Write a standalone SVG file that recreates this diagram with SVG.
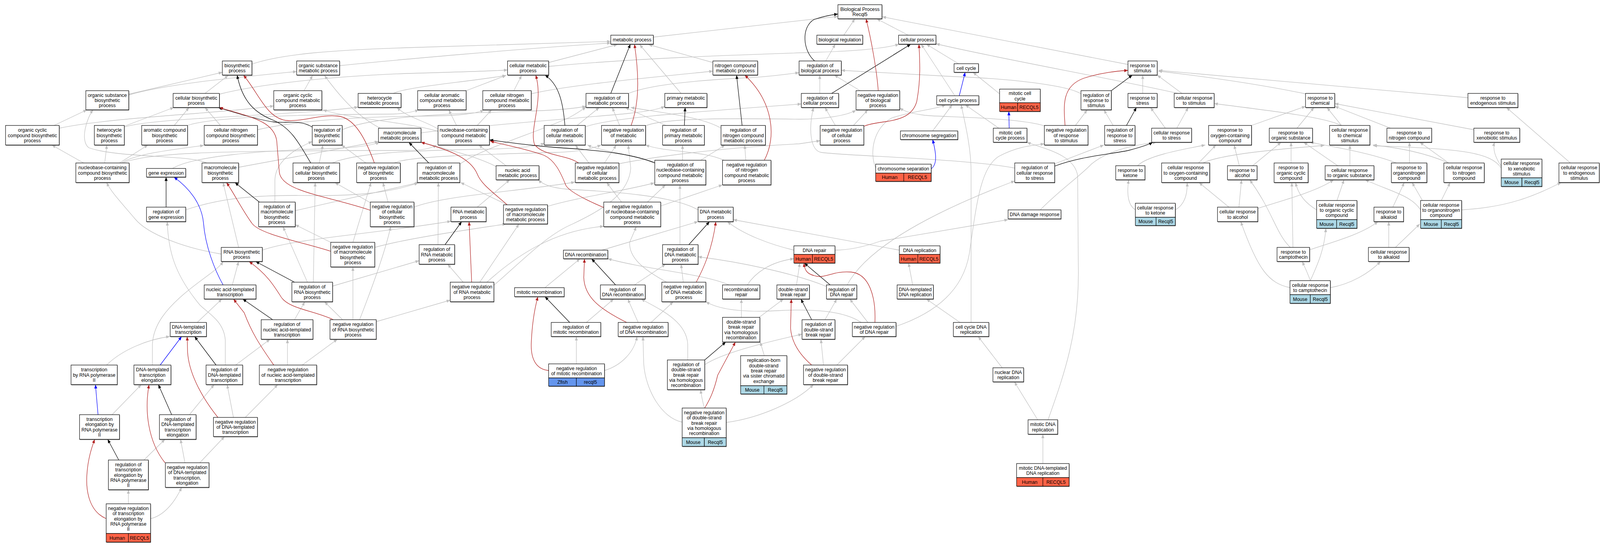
<svg xmlns="http://www.w3.org/2000/svg" width="4325" height="1397" viewBox="0 0 4325 1397">
<style>
.t{font-family:"Liberation Sans",Arial,sans-serif;font-size:13px;text-anchor:middle;fill:#000}
.bx{fill:#fff;stroke:#000;stroke-width:1.2}
.sh{fill:#555}
.hu{fill:#ff6347;stroke:#000;stroke-width:1.2}
.mo{fill:#add8e6;stroke:#000;stroke-width:1.2}
.zf{fill:#6495ed;stroke:#000;stroke-width:1.2}
.g{fill:none;stroke:#c0c0c0;stroke-width:1.3;marker-end:url(#ag)}
.k{fill:none;stroke:#000;stroke-width:1.3;marker-end:url(#ak)}
.r{fill:none;stroke:#b22222;stroke-width:1.3;marker-end:url(#ar)}
.b{fill:none;stroke:#0000ff;stroke-width:1.3;marker-end:url(#ab)}
</style>
<defs>
<marker id="ag" viewBox="0 0 10 8" refX="10" refY="4" markerWidth="10" markerHeight="8" markerUnits="userSpaceOnUse" orient="auto"><path d="M0,0L10,4L0,8z" fill="#c0c0c0"/></marker>
<marker id="ak" viewBox="0 0 10 8" refX="10" refY="4" markerWidth="10" markerHeight="8" markerUnits="userSpaceOnUse" orient="auto"><path d="M0,0L10,4L0,8z" fill="#000"/></marker>
<marker id="ar" viewBox="0 0 10 8" refX="10" refY="4" markerWidth="10" markerHeight="8" markerUnits="userSpaceOnUse" orient="auto"><path d="M0,0L10,4L0,8z" fill="#b22222"/></marker>
<marker id="ab" viewBox="0 0 10 8" refX="10" refY="4" markerWidth="10" markerHeight="8" markerUnits="userSpaceOnUse" orient="auto"><path d="M0,0L10,4L0,8z" fill="#0000ff"/></marker>
</defs>
<rect width="4325" height="1397" fill="#fff"/>
<g id="diagram" transform="scale(0.94705,1)">
<g id="connectors">
<path class="g" d="M681,164 C760,138 900,128 1100,122 C1300,116 1500,109 1651,106"/>
<path class="g" d="M918,168 C1050,155 1400,125 1651,110"/>
<path class="g" d="M348,241 L601,185"/>
<path class="g" d="M348,243 C450,215 620,200 802,183"/>
<path class="g" d="M554,239 L617,193"/>
<path class="g" d="M593,241 C700,215 900,195 1100,188 C1250,184 1330,182 1372,179"/>
<path class="g" d="M822,232 L845,193"/>
<path class="g" d="M1028,328 C970,300 925,255 877,193"/>
<path class="g" d="M1063,239 C1090,226 1200,215 1280,205 C1320,200 1350,196 1368,193"/>
<path class="g" d="M146,321 L235,281"/>
<path class="g" d="M160,328 C300,300 600,290 740,271"/>
<path class="g" d="M336,323 L470,275"/>
<path class="g" d="M336,325 C420,300 800,296 968,274"/>
<path class="g" d="M471,321 L511,275"/>
<path class="g" d="M507,321 C570,300 800,293 1050,292 C1090,292 1115,287 1132,281"/>
<path class="g" d="M596,321 L554,275"/>
<path class="g" d="M696,332 C820,305 1000,298 1150,297 C1250,296 1290,290 1308,281"/>
<path class="g" d="M226,417 L140,371"/>
<path class="g" d="M283,417 L289,371"/>
<path class="g" d="M323,417 L400,371"/>
<path class="g" d="M328,417 C370,392 470,383 551,372"/>
<path class="g" d="M332,417 C400,390 600,385 1100,385 C1140,385 1165,380 1180,371"/>
<path class="g" d="M559,417 C510,395 320,405 240,378 C215,360 235,300 252,281"/>
<path class="g" d="M645,428 L1023,362"/>
<path class="g" d="M466,431 C520,400 700,385 900,380 C980,377 1010,370 1026,364"/>
<path class="g" d="M863,417 L873,371"/>
<path class="g" d="M989,417 L923,371"/>
<path class="g" d="M898,417 C960,392 1100,385 1300,382 C1400,380 1450,375 1472,366"/>
<path class="g" d="M1066,417 C1100,400 1300,395 1500,390 C1570,388 1600,380 1625,371"/>
<path class="g" d="M925,332 C1000,300 1200,290 1400,285 C1500,283 1550,278 1584,272"/>
<path class="g" d="M1766,95 L2265,42"/>
<path class="g" d="M1483,160 L1669,114"/>
<path class="g" d="M1483,170 C1700,150 2000,140 2200,134 C2330,130 2400,122 2430,113"/>
<path class="g" d="M1927,160 L1753,114"/>
<path class="g" d="M1841,239 L1729,114"/>
<path class="g" d="M1699,239 C1760,215 1900,205 2000,200 C2080,197 2120,190 2160,186"/>
<path class="g" d="M1260,232 L1368,193"/>
<path class="g" d="M1389,232 L1410,193"/>
<path class="g" d="M1436,240 C1550,215 1800,195 1927,182"/>
<path class="g" d="M1560,321 L1620,275"/>
<path class="g" d="M1581,325 C1650,300 1900,285 2166,266"/>
<path class="g" d="M1675,321 L1655,275"/>
<path class="g" d="M1745,322 C1800,300 2000,303 2160,305 C2230,305 2290,295 2314,282"/>
<path class="g" d="M1800,321 L1690,275"/>
<path class="g" d="M1949,328 C1900,300 1800,290 1705,275"/>
<path class="g" d="M2016,410 L2013,371"/>
<path class="g" d="M1957,410 C1900,385 1800,390 1745,371"/>
<path class="g" d="M1845,410 L1845,371"/>
<path class="g" d="M1894,410 L1960,371"/>
<path class="g" d="M1770,415 C1700,395 1620,385 1588,371"/>
<path class="g" d="M1592,417 L1555,371"/>
<path class="g" d="M1634,417 L1666,371"/>
<path class="g" d="M1673,419 C1800,395 2000,375 2160,368 L2217,360"/>
<path class="g" d="M1243,420 C1300,380 1450,340 1540,300 C1560,290 1575,280 1584,274"/>
<path class="g" d="M1368,424 L1294,371"/>
<path class="g" d="M1345,428 C1290,400 1200,380 1138,364"/>
<path class="g" d="M1138,340 C1300,320 1600,300 1700,290 C1750,285 1780,280 1797,272"/>
<path class="g" d="M1234,321 L1213,281"/>
<path class="g" d="M1290,321 L1329,281"/>
<path class="g" d="M1184,330 C1150,310 1100,300 1073,275"/>
<path class="g" d="M1184,336 C1100,312 950,305 873,281"/>
<path class="g" d="M2281,90 L2311,48"/>
<path class="g" d="M2455,90 L2370,48"/>
<path class="g" d="M3049,165 L2385,43"/>
<path class="g" d="M2232,156 L2258,113"/>
<path class="g" d="M2216,239 L2216,192"/>
<path class="g" d="M2325,232 L2255,192"/>
<path class="g" d="M2258,321 L2230,275"/>
<path class="g" d="M2307,321 L2346,281"/>
<path class="g" d="M2581,245 L2490,113"/>
<path class="g" d="M2591,163 L2504,113"/>
<path class="g" d="M2702,240 L2630,185"/>
<path class="g" d="M2700,328 L2609,268"/>
<path class="g" d="M2521,335 L2574,268"/>
<path class="g" d="M2367,430 C2350,390 2360,330 2410,302 C2460,285 2530,280 2556,268"/>
<path class="g" d="M3184,239 C3000,200 2700,150 2530,112"/>
<path class="g" d="M2922,240 C2880,215 2700,200 2580,196 L2274,180"/>
<path class="g" d="M3089,239 L3089,192"/>
<path class="g" d="M3195,239 L3128,192"/>
<path class="g" d="M2907,321 L2939,281"/>
<path class="g" d="M2823,322 C2750,300 2550,300 2500,295 C2460,290 2445,285 2432,276"/>
<path class="g" d="M3009,321 L2984,281"/>
<path class="g" d="M3150,328 L3110,275"/>
<path class="g" d="M3181,328 L3212,275"/>
<path class="g" d="M2854,418 L2984,371"/>
<path class="g" d="M2743,430 C2600,405 2300,400 2220,390 C2190,385 2185,330 2199,275"/>
<path class="g" d="M2833,1074 C2880,950 2915,850 2915,700 L2913,450 C2905,395 2820,380 2776,364"/>
<path class="g" d="M2812,537 C2860,490 2920,450 2950,420 C3000,380 3080,370 3126,364"/>
<path class="g" d="M2258,640 C2300,640 2340,630 2380,617 L2725,562"/>
<path class="g" d="M2290,729 C2340,640 2500,550 2743,463"/>
<path class="g" d="M2422,835 C2500,810 2600,760 2620,650 C2640,520 2650,430 2700,400 C2750,375 2790,372 2823,368"/>
<path class="g" d="M2625,825 L2625,440 C2625,380 2610,320 2598,268"/>
<path class="g" d="M2595,825 L2504,765"/>
<path class="g" d="M2709,941 L2644,861"/>
<path class="g" d="M2805,1074 L2742,977"/>
<path class="g" d="M2819,1186 L2819,1111"/>
<path class="g" d="M2467,729 L2456,673"/>
<path class="g" d="M2431,640 L1982,562"/>
<path class="g" d="M2146,640 C2080,625 2010,600 1966,567"/>
<path class="g" d="M2153,729 L2162,673"/>
<path class="g" d="M2234,733 C2150,700 2000,670 1887,657"/>
<path class="g" d="M2346,825 L2297,765"/>
<path class="g" d="M2328,825 C2280,795 2200,790 2100,795 C2000,800 1940,790 1908,772"/>
<path class="g" d="M2230,818 L2262,765"/>
<path class="g" d="M2226,934 L2219,868"/>
<path class="g" d="M2262,934 L2339,861"/>
<path class="g" d="M2004,812 L2004,765"/>
<path class="g" d="M2052,812 L2118,765"/>
<path class="g" d="M1971,729 C1900,700 1750,690 1643,662"/>
<path class="g" d="M2020,729 C2040,700 2080,670 2146,662"/>
<path class="g" d="M1627,640 L1887,567"/>
<path class="g" d="M1838,626 L1838,473"/>
<path class="g" d="M1847,722 L1841,676"/>
<path class="g" d="M1802,722 C1740,690 1700,660 1702,620 L1720,580"/>
<path class="g" d="M1887,537 C1820,500 1650,490 1550,485 C1500,483 1470,475 1455,460"/>
<path class="g" d="M1750,517 L1799,473"/>
<path class="g" d="M1786,527 L1953,473"/>
<path class="g" d="M1680,517 L1640,467"/>
<path class="g" d="M1119,530 C1200,500 1400,490 1554,466"/>
<path class="g" d="M1480,528 C1560,505 1680,490 1769,468"/>
<path class="g" d="M1335,730 C1420,660 1480,600 1548,573 C1620,540 1700,500 1705,430 L1698,371"/>
<path class="g" d="M1290,530 L1378,460"/>
<path class="g" d="M1184,626 L1185,467"/>
<path class="g" d="M1252,722 L1210,676"/>
<path class="g" d="M1297,722 L1403,573"/>
<path class="g" d="M1315,723 C1400,650 1500,590 1632,579"/>
<path class="g" d="M1371,524 L1245,467"/>
<path class="g" d="M709,640 C800,610 1000,600 1219,566"/>
<path class="g" d="M645,633 L603,467"/>
<path class="g" d="M598,650 C500,635 400,600 365,560 C320,510 300,490 288,467"/>
<path class="g" d="M743,517 L743,460 C745,410 800,380 844,362"/>
<path class="g" d="M798,539 L1133,467"/>
<path class="g" d="M502,537 C600,505 700,500 800,500 C950,503 1050,495 1130,468"/>
<path class="g" d="M1000,518 L905,467"/>
<path class="g" d="M1049,517 L1035,467"/>
<path class="g" d="M894,620 L798,575"/>
<path class="g" d="M954,620 L1003,467"/>
<path class="g" d="M1013,633 C1100,610 1250,590 1368,573"/>
<path class="g" d="M628,729 L645,669"/>
<path class="g" d="M831,722 L765,580"/>
<path class="g" d="M847,722 L852,467"/>
<path class="g" d="M899,732 L1133,667"/>
<path class="g" d="M926,818 L877,772"/>
<path class="g" d="M954,818 L954,683"/>
<path class="g" d="M1017,823 L1217,768"/>
<path class="g" d="M972,818 C1000,750 1040,650 1056,580"/>
<path class="g" d="M533,825 L600,765"/>
<path class="g" d="M796,818 L824,772"/>
<path class="g" d="M817,934 L912,868"/>
<path class="g" d="M777,934 L777,868"/>
<path class="g" d="M288,934 C330,895 400,868 459,861"/>
<path class="g" d="M412,934 L412,880 C415,830 450,790 500,750 C550,710 590,690 603,669"/>
<path class="g" d="M637,934 L730,868"/>
<path class="g" d="M609,934 L609,870 C605,820 560,800 540,780 C470,700 455,640 452,567"/>
<path class="g" d="M303,1061 L382,984"/>
<path class="g" d="M512,1061 L579,984"/>
<path class="g" d="M631,1068 L614,984"/>
<path class="g" d="M663,1068 L751,984"/>
<path class="g" d="M389,1177 L446,1124"/>
<path class="g" d="M500,1184 L488,1124"/>
<path class="g" d="M540,1184 L607,1117"/>
<path class="g" d="M347,1289 L347,1253"/>
<path class="g" d="M407,1327 C440,1320 470,1290 491,1247"/>
<path class="g" d="M1585,825 L1659,765"/>
<path class="g" d="M1473,736 L1568,662"/>
<path class="g" d="M1715,729 L1799,676"/>
<path class="g" d="M1725,825 L1697,765"/>
<path class="g" d="M1760,825 L1820,772"/>
<path class="g" d="M1558,931 L1558,861"/>
<path class="g" d="M1634,948 C1680,935 1715,900 1722,861"/>
<path class="g" d="M1844,1080 C1790,1070 1745,1000 1740,930 L1738,861"/>
<path class="g" d="M1905,933 C1950,905 2050,880 2168,855"/>
<path class="g" d="M1859,921 L1859,880 C1855,820 1780,790 1733,765"/>
<path class="g" d="M1904,1044 C1900,1030 1896,1015 1894,997"/>
<path class="g" d="M1963,1081 C2050,1070 2150,1030 2199,984"/>
<path class="g" d="M2066,910 L2055,875"/>
<path class="g" d="M3529,240 C3400,215 3250,195 3131,182"/>
<path class="g" d="M3968,250 L3132,180"/>
<path class="g" d="M3626,321 C3580,300 3450,285 3282,265"/>
<path class="g" d="M3383,321 L3529,272"/>
<path class="g" d="M3506,328 L3552,275"/>
<path class="g" d="M3626,321 L3587,275"/>
<path class="g" d="M3759,328 L3608,272"/>
<path class="g" d="M3984,332 L3608,265"/>
<path class="g" d="M3240,417 L3287,371"/>
<path class="g" d="M3075,424 C3100,400 3180,385 3258,371"/>
<path class="g" d="M3350,424 L3336,371"/>
<path class="g" d="M3386,424 L3463,364"/>
<path class="g" d="M3490,417 L3490,364"/>
<path class="g" d="M3616,424 L3524,364"/>
<path class="g" d="M3252,417 C3300,395 3450,382 3580,372"/>
<path class="g" d="M3775,417 C3700,390 3600,375 3541,364"/>
<path class="g" d="M3649,424 L3649,371"/>
<path class="g" d="M3916,417 C3850,390 3780,378 3711,371"/>
<path class="g" d="M4058,430 C4030,390 3950,380 3712,373"/>
<path class="g" d="M3810,417 L3810,364"/>
<path class="g" d="M3916,417 L3838,364"/>
<path class="g" d="M4058,425 C4040,400 4035,380 4040,364"/>
<path class="g" d="M4245,417 L4072,275"/>
<path class="g" d="M3349,530 L3356,460"/>
<path class="g" d="M3322,530 L3241,467"/>
<path class="g" d="M3400,533 C3460,515 3560,490 3605,460"/>
<path class="g" d="M3614,513 L3633,460"/>
<path class="g" d="M3559,537 C3530,520 3510,500 3502,467"/>
<path class="g" d="M3840,537 C3815,500 3760,490 3690,460"/>
<path class="g" d="M3845,513 L3817,467"/>
<path class="g" d="M3765,530 L3796,467"/>
<path class="g" d="M3896,513 L3920,467"/>
<path class="g" d="M3951,537 C4080,530 4150,500 4220,467"/>
<path class="g" d="M3488,633 C3450,600 3440,540 3378,460"/>
<path class="g" d="M3495,633 L3492,467"/>
<path class="g" d="M3541,639 C3600,620 3680,600 3725,567"/>
<path class="g" d="M3754,633 L3754,567"/>
<path class="g" d="M3772,633 L3838,573"/>
<path class="g" d="M3487,736 C3430,725 3400,690 3354,567"/>
<path class="g" d="M3542,718 C3535,700 3528,685 3520,669"/>
<path class="g" d="M3542,718 C3560,680 3580,640 3584,584"/>
<path class="g" d="M3596,736 C3650,727 3700,700 3732,669"/>
<path class="g" d="M3069,537 C3050,525 3045,500 3051,460"/>
<path class="g" d="M3177,537 C3200,525 3210,500 3209,467"/>
<path class="k" d="M2202,156 C2170,130 2165,70 2200,50 C2225,42 2245,38 2265,36"/>
<path class="k" d="M2248,239 L2462,113"/>
<path class="k" d="M3004,232 L3061,192"/>
<path class="k" d="M3045,321 L3072,275"/>
<path class="k" d="M2851,425 C2920,400 3000,395 3050,385 C3090,375 3105,370 3116,364"/>
<path class="k" d="M1651,239 L1704,113"/>
<path class="k" d="M1850,321 L1852,275"/>
<path class="k" d="M2006,321 L1991,192"/>
<path class="k" d="M1527,321 C1522,260 1510,215 1473,192"/>
<path class="k" d="M1770,417 C1700,390 1600,385 1560,381 C1450,375 1380,365 1323,358"/>
<path class="k" d="M1159,417 L1105,364"/>
<path class="k" d="M840,417 C810,370 790,330 740,308 C690,290 655,260 641,192"/>
<path class="k" d="M844,325 C810,305 770,316 740,312 C700,307 640,290 590,275"/>
<path class="k" d="M449,530 L449,453"/>
<path class="k" d="M701,517 L635,467"/>
<path class="k" d="M796,722 L691,669"/>
<path class="k" d="M737,818 L656,765"/>
<path class="k" d="M584,934 L526,861"/>
<path class="k" d="M464,1061 L428,984"/>
<path class="k" d="M321,1177 L291,1124"/>
<path class="k" d="M1203,626 L1248,567"/>
<path class="k" d="M1862,626 L1918,567"/>
<path class="k" d="M1664,729 L1599,662"/>
<path class="k" d="M1540,825 L1473,759"/>
<path class="k" d="M1905,921 L1962,875"/>
<path class="k" d="M2244,729 L2174,673"/>
<path class="k" d="M2194,818 L2165,765"/>
<path class="r" d="M2374,232 C2370,180 2355,100 2341,48"/>
<path class="r" d="M2335,323 C2380,305 2460,320 2478,260 C2490,200 2486,150 2484,113"/>
<path class="r" d="M2879,321 C2875,270 2870,220 2930,200 C2980,185 3020,182 3049,180"/>
<path class="r" d="M1706,321 C1722,280 1732,220 1715,113"/>
<path class="r" d="M1564,417 C1530,395 1470,400 1445,370 C1430,330 1470,260 1448,192"/>
<path class="r" d="M2066,410 C2100,350 2090,260 2013,192"/>
<path class="r" d="M1012,417 C990,360 960,300 912,297 C860,293 820,312 772,308 C720,300 700,240 658,192"/>
<path class="r" d="M1001,538 C880,500 760,490 755,440 L748,360 C740,310 680,300 593,275"/>
<path class="r" d="M1371,524 C1330,490 1300,470 1290,445 C1270,400 1200,380 1138,364"/>
<path class="r" d="M1632,531 C1580,510 1540,490 1530,475 C1515,440 1500,410 1470,397 C1420,380 1360,370 1325,361"/>
<path class="r" d="M894,643 C820,620 700,600 680,570 C650,530 630,490 612,467"/>
<path class="r" d="M901,818 C850,795 780,790 760,760 C740,730 720,700 673,669"/>
<path class="r" d="M740,934 C700,880 680,850 660,800 L631,765"/>
<path class="r" d="M589,1068 C540,1010 510,950 507,900 L506,861"/>
<path class="r" d="M446,1184 C400,1130 390,1050 403,984"/>
<path class="r" d="M287,1327 C238,1307 232,1250 235,1213 C238,1170 250,1140 256,1124"/>
<path class="r" d="M1275,722 L1268,567"/>
<path class="r" d="M1882,722 C1900,690 1925,640 1935,567"/>
<path class="r" d="M1694,825 C1620,790 1580,760 1578,710 L1580,662"/>
<path class="r" d="M1483,948 C1450,945 1435,920 1436,880 C1438,830 1445,790 1454,759"/>
<path class="r" d="M1905,1044 C1920,1020 1930,1000 1940,960 L1988,875"/>
<path class="r" d="M2365,825 C2368,760 2350,700 2300,696 C2250,692 2230,715 2200,705 C2180,700 2175,690 2173,673"/>
<path class="r" d="M2194,934 C2165,910 2140,880 2137,840 L2139,765"/>
<path class="b" d="M2593,245 L2609,185"/>
<path class="b" d="M2728,328 L2727,285"/>
<path class="b" d="M2517,432 C2535,420 2530,390 2521,357"/>
<path class="b" d="M603,729 C580,690 555,630 550,570 C545,520 510,480 470,453"/>
<path class="b" d="M433,934 L491,861"/>
<path class="b" d="M265,1061 L258,984"/>
</g>
<g id="n_BP"><rect class="sh" x="2266" y="13.5" width="119" height="36"/><rect class="bx" x="2265" y="12" width="119" height="36"/><text class="t"><tspan x="2324.5" y="27.9">Biological Process</tspan><tspan x="2324.5" y="41.3">Recql5</tspan></text></g>
<g id="n_MP"><rect class="sh" x="1652" y="91.5" width="115" height="23"/><rect class="bx" x="1651" y="90" width="115" height="23"/><text class="t" x="1708.5" y="106.1">metabolic process</text></g>
<g id="n_BR"><rect class="sh" x="2209" y="91.5" width="124" height="23"/><rect class="bx" x="2208" y="90" width="124" height="23"/><text class="t" x="2270" y="106.1">biological regulation</text></g>
<g id="n_CP"><rect class="sh" x="2430" y="91.5" width="101" height="23"/><rect class="bx" x="2429" y="90" width="101" height="23"/><text class="t" x="2479.5" y="106.1">cellular process</text></g>
<g id="n_BS"><rect class="sh" x="602" y="157.5" width="80" height="36"/><rect class="bx" x="601" y="156" width="80" height="36"/><text class="t"><tspan x="641" y="171.9">biosynthetic</tspan><tspan x="641" y="185.3">process</tspan></text></g>
<g id="n_OSMP"><rect class="sh" x="803" y="157.5" width="116" height="36"/><rect class="bx" x="802" y="156" width="116" height="36"/><text class="t"><tspan x="860" y="171.9">organic substance</tspan><tspan x="860" y="185.3">metabolic process</tspan></text></g>
<g id="n_CMP"><rect class="sh" x="1373" y="157.5" width="111" height="36"/><rect class="bx" x="1372" y="156" width="111" height="36"/><text class="t"><tspan x="1427.5" y="171.9">cellular metabolic</tspan><tspan x="1427.5" y="185.3">process</tspan></text></g>
<g id="n_NCMP"><rect class="sh" x="1928" y="157.5" width="121" height="36"/><rect class="bx" x="1927" y="156" width="121" height="36"/><text class="t"><tspan x="1987.5" y="171.9">nitrogen compound</tspan><tspan x="1987.5" y="185.3">metabolic process</tspan></text></g>
<g id="n_RBP"><rect class="sh" x="2161" y="157.5" width="114" height="36"/><rect class="bx" x="2160" y="156" width="114" height="36"/><text class="t"><tspan x="2217" y="171.9">regulation of</tspan><tspan x="2217" y="185.3">biological process</tspan></text></g>
<g id="n_CC"><rect class="sh" x="2580" y="164.5" width="66" height="22"/><rect class="bx" x="2579" y="163" width="66" height="22"/><text class="t" x="2612" y="178.6">cell cycle</text></g>
<g id="n_RS"><rect class="sh" x="3050" y="157.5" width="79" height="36"/><rect class="bx" x="3049" y="156" width="79" height="36"/><text class="t"><tspan x="3088.5" y="171.9">response to</tspan><tspan x="3088.5" y="185.3">stimulus</tspan></text></g>
<g id="n_OSBP"><rect class="sh" x="233" y="233.5" width="116" height="49"/><rect class="bx" x="232" y="232" width="116" height="49"/><text class="t"><tspan x="290" y="247.7">organic substance</tspan><tspan x="290" y="261.1">biosynthetic</tspan><tspan x="290" y="274.5">process</tspan></text></g>
<g id="n_CBP"><rect class="sh" x="469" y="240.5" width="125" height="36"/><rect class="bx" x="468" y="239" width="125" height="36"/><text class="t"><tspan x="530.5" y="254.9">cellular biosynthetic</tspan><tspan x="530.5" y="268.3">process</tspan></text></g>
<g id="n_OCCMP"><rect class="sh" x="741" y="233.5" width="130" height="49"/><rect class="bx" x="740" y="232" width="130" height="49"/><text class="t"><tspan x="805" y="247.7">organic cyclic</tspan><tspan x="805" y="261.1">compound metabolic</tspan><tspan x="805" y="274.5">process</tspan></text></g>
<g id="n_HMP"><rect class="sh" x="969" y="240.5" width="116" height="36"/><rect class="bx" x="968" y="239" width="116" height="36"/><text class="t"><tspan x="1026" y="254.9">heterocycle</tspan><tspan x="1026" y="268.3">metabolic process</tspan></text></g>
<g id="n_CACMP"><rect class="sh" x="1130" y="233.5" width="131" height="49"/><rect class="bx" x="1129" y="232" width="131" height="49"/><text class="t"><tspan x="1194.5" y="247.7">cellular aromatic</tspan><tspan x="1194.5" y="261.1">compound metabolic</tspan><tspan x="1194.5" y="274.5">process</tspan></text></g>
<g id="n_CNCMP"><rect class="sh" x="1306" y="233.5" width="131" height="49"/><rect class="bx" x="1305" y="232" width="131" height="49"/><text class="t"><tspan x="1370.5" y="247.7">cellular nitrogen</tspan><tspan x="1370.5" y="261.1">compound metabolic</tspan><tspan x="1370.5" y="274.5">process</tspan></text></g>
<g id="n_RMP"><rect class="sh" x="1585" y="240.5" width="115" height="36"/><rect class="bx" x="1584" y="239" width="115" height="36"/><text class="t"><tspan x="1641.5" y="254.9">regulation of</tspan><tspan x="1641.5" y="268.3">metabolic process</tspan></text></g>
<g id="n_PMP"><rect class="sh" x="1798" y="240.5" width="114" height="36"/><rect class="bx" x="1797" y="239" width="114" height="36"/><text class="t"><tspan x="1854" y="254.9">primary metabolic</tspan><tspan x="1854" y="268.3">process</tspan></text></g>
<g id="n_RCP"><rect class="sh" x="2167" y="240.5" width="101" height="36"/><rect class="bx" x="2166" y="239" width="101" height="36"/><text class="t"><tspan x="2216.5" y="254.9">regulation of</tspan><tspan x="2216.5" y="268.3">cellular process</tspan></text></g>
<g id="n_NRBP"><rect class="sh" x="2315" y="233.5" width="118" height="49"/><rect class="bx" x="2314" y="232" width="118" height="49"/><text class="t"><tspan x="2373" y="247.7">negative regulation</tspan><tspan x="2373" y="261.1">of biological</tspan><tspan x="2373" y="274.5">process</tspan></text></g>
<g id="n_CCP"><rect class="sh" x="2533" y="246.5" width="114" height="23"/><rect class="bx" x="2532" y="245" width="114" height="23"/><text class="t" x="2589" y="261.1">cell cycle process</text></g>
<g id="n_MCC"><rect class="sh" x="2703" y="229.5" width="110" height="57"/><rect class="bx" x="2702" y="228" width="110" height="35"/><rect class="hu" x="2702" y="263" width="49" height="22"/><rect class="hu" x="2751" y="263" width="61" height="22"/><text class="t"><tspan x="2757" y="243.4">mitotic cell</tspan><tspan x="2757" y="256.8">cycle</tspan><tspan x="2726.5" y="278.6">Human</tspan><tspan x="2781.5" y="278.6">RECQL5</tspan></text></g>
<g id="n_RRS"><rect class="sh" x="2923" y="233.5" width="82" height="49"/><rect class="bx" x="2922" y="232" width="82" height="49"/><text class="t"><tspan x="2963" y="247.7">regulation of</tspan><tspan x="2963" y="261.1">response to</tspan><tspan x="2963" y="274.5">stimulus</tspan></text></g>
<g id="n_RSS"><rect class="sh" x="3050" y="240.5" width="79" height="36"/><rect class="bx" x="3049" y="239" width="79" height="36"/><text class="t"><tspan x="3088.5" y="254.9">response to</tspan><tspan x="3088.5" y="268.3">stress</tspan></text></g>
<g id="n_CRSt"><rect class="sh" x="3175" y="240.5" width="108" height="36"/><rect class="bx" x="3174" y="239" width="108" height="36"/><text class="t"><tspan x="3228" y="254.9">cellular response</tspan><tspan x="3228" y="268.3">to stimulus</tspan></text></g>
<g id="n_RC"><rect class="sh" x="3530" y="240.5" width="79" height="36"/><rect class="bx" x="3529" y="239" width="79" height="36"/><text class="t"><tspan x="3568.5" y="254.9">response to</tspan><tspan x="3568.5" y="268.3">chemical</tspan></text></g>
<g id="n_RES"><rect class="sh" x="3969" y="240.5" width="135" height="36"/><rect class="bx" x="3968" y="239" width="135" height="36"/><text class="t"><tspan x="4035.5" y="254.9">response to</tspan><tspan x="4035.5" y="268.3">endogenous stimulus</tspan></text></g>
<g id="n_OCCBP"><rect class="sh" x="16" y="322.5" width="145" height="50"/><rect class="bx" x="15" y="321" width="145" height="50"/><text class="t"><tspan x="87.5" y="337.2">organic cyclic</tspan><tspan x="87.5" y="350.6">compound biosynthetic</tspan><tspan x="87.5" y="364">process</tspan></text></g>
<g id="n_HBP"><rect class="sh" x="256" y="322.5" width="81" height="50"/><rect class="bx" x="255" y="321" width="81" height="50"/><text class="t"><tspan x="295.5" y="337.2">heterocycle</tspan><tspan x="295.5" y="350.6">biosynthetic</tspan><tspan x="295.5" y="364">process</tspan></text></g>
<g id="n_ACBP"><rect class="sh" x="384" y="322.5" width="124" height="50"/><rect class="bx" x="383" y="321" width="124" height="50"/><text class="t"><tspan x="445" y="337.2">aromatic compound</tspan><tspan x="445" y="350.6">biosynthetic</tspan><tspan x="445" y="364">process</tspan></text></g>
<g id="n_CNCBP"><rect class="sh" x="553" y="322.5" width="144" height="50"/><rect class="bx" x="552" y="321" width="144" height="50"/><text class="t"><tspan x="624" y="337.2">cellular nitrogen</tspan><tspan x="624" y="350.6">compound biosynthetic</tspan><tspan x="624" y="364">process</tspan></text></g>
<g id="n_RBSP"><rect class="sh" x="845" y="322.5" width="81" height="50"/><rect class="bx" x="844" y="321" width="81" height="50"/><text class="t"><tspan x="884.5" y="337.2">regulation of</tspan><tspan x="884.5" y="350.6">biosynthetic</tspan><tspan x="884.5" y="364">process</tspan></text></g>
<g id="n_MMP"><rect class="sh" x="1024" y="329.5" width="115" height="36"/><rect class="bx" x="1023" y="328" width="115" height="36"/><text class="t"><tspan x="1080.5" y="343.9">macromolecule</tspan><tspan x="1080.5" y="357.3">metabolic process</tspan></text></g>
<g id="n_NCCMP"><rect class="sh" x="1185" y="322.5" width="139" height="50"/><rect class="bx" x="1184" y="321" width="139" height="50"/><text class="t"><tspan x="1253.5" y="337.2">nucleobase-containing</tspan><tspan x="1253.5" y="350.6">compound metabolic</tspan><tspan x="1253.5" y="364">process</tspan></text></g>
<g id="n_RCMP"><rect class="sh" x="1472" y="322.5" width="111" height="50"/><rect class="bx" x="1471" y="321" width="111" height="50"/><text class="t"><tspan x="1526.5" y="337.2">regulation of</tspan><tspan x="1526.5" y="350.6">cellular metabolic</tspan><tspan x="1526.5" y="364">process</tspan></text></g>
<g id="n_NRMP"><rect class="sh" x="1627" y="322.5" width="119" height="50"/><rect class="bx" x="1626" y="321" width="119" height="50"/><text class="t"><tspan x="1685.5" y="337.2">negative regulation</tspan><tspan x="1685.5" y="350.6">of metabolic</tspan><tspan x="1685.5" y="364">process</tspan></text></g>
<g id="n_RPMP"><rect class="sh" x="1792" y="322.5" width="113" height="50"/><rect class="bx" x="1791" y="321" width="113" height="50"/><text class="t"><tspan x="1847.5" y="337.2">regulation of</tspan><tspan x="1847.5" y="350.6">primary metabolic</tspan><tspan x="1847.5" y="364">process</tspan></text></g>
<g id="n_RNCMP"><rect class="sh" x="1950" y="322.5" width="120" height="50"/><rect class="bx" x="1949" y="321" width="120" height="50"/><text class="t"><tspan x="2009" y="337.2">regulation of</tspan><tspan x="2009" y="350.6">nitrogen compound</tspan><tspan x="2009" y="364">metabolic process</tspan></text></g>
<g id="n_NRCP"><rect class="sh" x="2218" y="322.5" width="118" height="50"/><rect class="bx" x="2217" y="321" width="118" height="50"/><text class="t"><tspan x="2276" y="337.2">negative regulation</tspan><tspan x="2276" y="350.6">of cellular</tspan><tspan x="2276" y="364">process</tspan></text></g>
<g id="n_CS"><rect class="sh" x="2435" y="336.5" width="155" height="22"/><rect class="bx" x="2434" y="335" width="155" height="22"/><text class="t" x="2511.5" y="350.6">chromosome segregation</text></g>
<g id="n_MCCP"><rect class="sh" x="2686" y="329.5" width="91" height="36"/><rect class="bx" x="2685" y="328" width="91" height="36"/><text class="t"><tspan x="2730.5" y="343.9">mitotic cell</tspan><tspan x="2730.5" y="357.3">cycle process</tspan></text></g>
<g id="n_NRRS"><rect class="sh" x="2824" y="322.5" width="118" height="50"/><rect class="bx" x="2823" y="321" width="118" height="50"/><text class="t"><tspan x="2882" y="337.2">negative regulation</tspan><tspan x="2882" y="350.6">of response</tspan><tspan x="2882" y="364">to stimulus</tspan></text></g>
<g id="n_RRSS"><rect class="sh" x="2987" y="322.5" width="82" height="50"/><rect class="bx" x="2986" y="321" width="82" height="50"/><text class="t"><tspan x="3027" y="337.2">regulation of</tspan><tspan x="3027" y="350.6">response to</tspan><tspan x="3027" y="364">stress</tspan></text></g>
<g id="n_CRS"><rect class="sh" x="3114" y="329.5" width="108" height="36"/><rect class="bx" x="3113" y="328" width="108" height="36"/><text class="t"><tspan x="3167" y="343.9">cellular response</tspan><tspan x="3167" y="357.3">to stress</tspan></text></g>
<g id="n_ROCC"><rect class="sh" x="3268" y="322.5" width="116" height="50"/><rect class="bx" x="3267" y="321" width="116" height="50"/><text class="t"><tspan x="3325" y="337.2">response to</tspan><tspan x="3325" y="350.6">oxygen-containing</tspan><tspan x="3325" y="364">compound</tspan></text></g>
<g id="n_ROS"><rect class="sh" x="3432" y="329.5" width="117" height="36"/><rect class="bx" x="3431" y="328" width="117" height="36"/><text class="t"><tspan x="3489.5" y="343.9">response to</tspan><tspan x="3489.5" y="357.3">organic substance</tspan></text></g>
<g id="n_CRCS"><rect class="sh" x="3595" y="322.5" width="109" height="50"/><rect class="bx" x="3594" y="321" width="109" height="50"/><text class="t"><tspan x="3648.5" y="337.2">cellular response</tspan><tspan x="3648.5" y="350.6">to chemical</tspan><tspan x="3648.5" y="364">stimulus</tspan></text></g>
<g id="n_RNC"><rect class="sh" x="3750" y="329.5" width="121" height="36"/><rect class="bx" x="3749" y="328" width="121" height="36"/><text class="t"><tspan x="3809.5" y="343.9">response to</tspan><tspan x="3809.5" y="357.3">nitrogen compound</tspan></text></g>
<g id="n_RXS"><rect class="sh" x="3985" y="329.5" width="124" height="36"/><rect class="bx" x="3984" y="328" width="124" height="36"/><text class="t"><tspan x="4046" y="343.9">response to</tspan><tspan x="4046" y="357.3">xenobiotic stimulus</tspan></text></g>
<g id="n_NCCBP"><rect class="sh" x="206" y="418.5" width="144" height="50"/><rect class="bx" x="205" y="417" width="144" height="50"/><text class="t"><tspan x="277" y="433.2">nucleobase-containing</tspan><tspan x="277" y="446.6">compound biosynthetic</tspan><tspan x="277" y="460">process</tspan></text></g>
<g id="n_GE"><rect class="sh" x="397" y="432.5" width="106" height="22"/><rect class="bx" x="396" y="431" width="106" height="22"/><text class="t" x="449" y="446.6">gene expression</text></g>
<g id="n_MBP"><rect class="sh" x="547" y="418.5" width="99" height="50"/><rect class="bx" x="546" y="417" width="99" height="50"/><text class="t"><tspan x="595.5" y="433.2">macromolecule</tspan><tspan x="595.5" y="446.6">biosynthetic</tspan><tspan x="595.5" y="460">process</tspan></text></g>
<g id="n_RCBP"><rect class="sh" x="793" y="418.5" width="126" height="50"/><rect class="bx" x="792" y="417" width="126" height="50"/><text class="t"><tspan x="855" y="433.2">regulation of</tspan><tspan x="855" y="446.6">cellular biosynthetic</tspan><tspan x="855" y="460">process</tspan></text></g>
<g id="n_NRBSP"><rect class="sh" x="965" y="418.5" width="118" height="50"/><rect class="bx" x="964" y="417" width="118" height="50"/><text class="t"><tspan x="1023" y="433.2">negative regulation</tspan><tspan x="1023" y="446.6">of biosynthetic</tspan><tspan x="1023" y="460">process</tspan></text></g>
<g id="n_RMMP"><rect class="sh" x="1129" y="418.5" width="115" height="50"/><rect class="bx" x="1128" y="417" width="115" height="50"/><text class="t"><tspan x="1185.5" y="433.2">regulation of</tspan><tspan x="1185.5" y="446.6">macromolecule</tspan><tspan x="1185.5" y="460">metabolic process</tspan></text></g>
<g id="n_NAMP"><rect class="sh" x="1342" y="425.5" width="116" height="36"/><rect class="bx" x="1341" y="424" width="116" height="36"/><text class="t"><tspan x="1399" y="439.9">nucleic acid</tspan><tspan x="1399" y="453.3">metabolic process</tspan></text></g>
<g id="n_NRCMP"><rect class="sh" x="1556" y="418.5" width="118" height="50"/><rect class="bx" x="1555" y="417" width="118" height="50"/><text class="t"><tspan x="1614" y="433.2">negative regulation</tspan><tspan x="1614" y="446.6">of cellular</tspan><tspan x="1614" y="460">metabolic process</tspan></text></g>
<g id="n_RNCCMP"><rect class="sh" x="1771" y="411.5" width="138" height="63"/><rect class="bx" x="1770" y="410" width="138" height="63"/><text class="t"><tspan x="1839" y="426">regulation of</tspan><tspan x="1839" y="439.4">nucleobase-containing</tspan><tspan x="1839" y="452.8">compound metabolic</tspan><tspan x="1839" y="466.2">process</tspan></text></g>
<g id="n_NRNCMP"><rect class="sh" x="1954" y="411.5" width="131" height="63"/><rect class="bx" x="1953" y="410" width="131" height="63"/><text class="t"><tspan x="2018.5" y="426">negative regulation</tspan><tspan x="2018.5" y="439.4">of nitrogen</tspan><tspan x="2018.5" y="452.8">compound metabolic</tspan><tspan x="2018.5" y="466.2">process</tspan></text></g>
<g id="n_CSep"><rect class="sh" x="2368" y="421.5" width="150" height="44"/><rect class="bx" x="2367" y="420" width="150" height="23"/><rect class="hu" x="2367" y="443" width="76" height="21"/><rect class="hu" x="2443" y="443" width="74" height="21"/><text class="t"><tspan x="2442" y="436.1">chromosome separation</tspan><tspan x="2405" y="458.1">Human</tspan><tspan x="2480" y="458.1">RECQL5</tspan></text></g>
<g id="n_RCRS"><rect class="sh" x="2744" y="418.5" width="108" height="50"/><rect class="bx" x="2743" y="417" width="108" height="50"/><text class="t"><tspan x="2797" y="433.2">regulation of</tspan><tspan x="2797" y="446.6">cellular response</tspan><tspan x="2797" y="460">to stress</tspan></text></g>
<g id="n_RK"><rect class="sh" x="3017" y="425.5" width="79" height="36"/><rect class="bx" x="3016" y="424" width="79" height="36"/><text class="t"><tspan x="3055.5" y="439.9">response to</tspan><tspan x="3055.5" y="453.3">ketone</tspan></text></g>
<g id="n_CROCC"><rect class="sh" x="3141" y="418.5" width="130" height="50"/><rect class="bx" x="3140" y="417" width="130" height="50"/><text class="t"><tspan x="3205" y="433.2">cellular response</tspan><tspan x="3205" y="446.6">to oxygen-containing</tspan><tspan x="3205" y="460">compound</tspan></text></g>
<g id="n_RA"><rect class="sh" x="3319" y="425.5" width="80" height="36"/><rect class="bx" x="3318" y="424" width="80" height="36"/><text class="t"><tspan x="3358" y="439.9">response to</tspan><tspan x="3358" y="453.3">alcohol</tspan></text></g>
<g id="n_ROCyc"><rect class="sh" x="3445" y="418.5" width="92" height="50"/><rect class="bx" x="3444" y="417" width="92" height="50"/><text class="t"><tspan x="3490" y="433.2">response to</tspan><tspan x="3490" y="446.6">organic cyclic</tspan><tspan x="3490" y="460">compound</tspan></text></g>
<g id="n_CROS"><rect class="sh" x="3583" y="425.5" width="132" height="36"/><rect class="bx" x="3582" y="424" width="132" height="36"/><text class="t"><tspan x="3648" y="439.9">cellular response</tspan><tspan x="3648" y="453.3">to organic substance</tspan></text></g>
<g id="n_RON"><rect class="sh" x="3762" y="418.5" width="96" height="50"/><rect class="bx" x="3761" y="417" width="96" height="50"/><text class="t"><tspan x="3809" y="433.2">response to</tspan><tspan x="3809" y="446.6">organonitrogen</tspan><tspan x="3809" y="460">compound</tspan></text></g>
<g id="n_CRNC"><rect class="sh" x="3904" y="418.5" width="109" height="50"/><rect class="bx" x="3903" y="417" width="109" height="50"/><text class="t"><tspan x="3957.5" y="433.2">cellular response</tspan><tspan x="3957.5" y="446.6">to nitrogen</tspan><tspan x="3957.5" y="460">compound</tspan></text></g>
<g id="n_CRXS"><rect class="sh" x="4059" y="408.5" width="110" height="70"/><rect class="bx" x="4058" y="407" width="110" height="48"/><rect class="mo" x="4058" y="455" width="56" height="22"/><rect class="mo" x="4114" y="455" width="54" height="22"/><text class="t"><tspan x="4113" y="422.2">cellular response</tspan><tspan x="4113" y="435.6">to xenobiotic</tspan><tspan x="4113" y="449">stimulus</tspan><tspan x="4086" y="470.6">Mouse</tspan><tspan x="4141" y="470.6">Recql5</tspan></text></g>
<g id="n_CRES"><rect class="sh" x="4215" y="418.5" width="109" height="50"/><rect class="bx" x="4214" y="417" width="109" height="50"/><text class="t"><tspan x="4268.5" y="433.2">cellular response</tspan><tspan x="4268.5" y="446.6">to endogenous</tspan><tspan x="4268.5" y="460">stimulus</tspan></text></g>
<g id="n_RGE"><rect class="sh" x="397" y="531.5" width="106" height="37"/><rect class="bx" x="396" y="530" width="106" height="37"/><text class="t"><tspan x="449" y="546.4">regulation of</tspan><tspan x="449" y="559.8">gene expression</tspan></text></g>
<g id="n_RMBP"><rect class="sh" x="700" y="518.5" width="99" height="63"/><rect class="bx" x="699" y="517" width="99" height="63"/><text class="t"><tspan x="748.5" y="533">regulation of</tspan><tspan x="748.5" y="546.4">macromolecule</tspan><tspan x="748.5" y="559.8">biosynthetic</tspan><tspan x="748.5" y="573.2">process</tspan></text></g>
<g id="n_NRCBP"><rect class="sh" x="1002" y="518.5" width="118" height="63"/><rect class="bx" x="1001" y="517" width="118" height="63"/><text class="t"><tspan x="1060" y="533">negative regulation</tspan><tspan x="1060" y="546.4">of cellular</tspan><tspan x="1060" y="559.8">biosynthetic</tspan><tspan x="1060" y="573.2">process</tspan></text></g>
<g id="n_RNAMP"><rect class="sh" x="1220" y="531.5" width="95" height="37"/><rect class="bx" x="1219" y="530" width="95" height="37"/><text class="t"><tspan x="1266.5" y="546.4">RNA metabolic</tspan><tspan x="1266.5" y="559.8">process</tspan></text></g>
<g id="n_NRMMP"><rect class="sh" x="1362" y="525.5" width="119" height="49"/><rect class="bx" x="1361" y="524" width="119" height="49"/><text class="t"><tspan x="1420.5" y="539.7">negative regulation</tspan><tspan x="1420.5" y="553.1">of macromolecule</tspan><tspan x="1420.5" y="566.5">metabolic process</tspan></text></g>
<g id="n_NRNCCMP"><rect class="sh" x="1633" y="518.5" width="154" height="63"/><rect class="bx" x="1632" y="517" width="154" height="63"/><text class="t"><tspan x="1709" y="533">negative regulation</tspan><tspan x="1709" y="546.4">of nucleobase-containing</tspan><tspan x="1709" y="559.8">compound metabolic</tspan><tspan x="1709" y="573.2">process</tspan></text></g>
<g id="n_DMP"><rect class="sh" x="1888" y="531.5" width="95" height="37"/><rect class="bx" x="1887" y="530" width="95" height="37"/><text class="t"><tspan x="1934.5" y="546.4">DNA metabolic</tspan><tspan x="1934.5" y="559.8">process</tspan></text></g>
<g id="n_DDR"><rect class="sh" x="2726" y="538.5" width="143" height="23"/><rect class="bx" x="2725" y="537" width="143" height="23"/><text class="t" x="2796.5" y="553.1">DNA damage response</text></g>
<g id="n_CRK"><rect class="sh" x="3070" y="521.5" width="108" height="57"/><rect class="bx" x="3069" y="520" width="108" height="36"/><rect class="mo" x="3069" y="556" width="56" height="21"/><rect class="mo" x="3125" y="556" width="52" height="21"/><text class="t"><tspan x="3123" y="535.9">cellular response</tspan><tspan x="3123" y="549.3">to ketone</tspan><tspan x="3097" y="571.1">Mouse</tspan><tspan x="3151" y="571.1">Recql5</tspan></text></g>
<g id="n_CRA"><rect class="sh" x="3292" y="531.5" width="109" height="37"/><rect class="bx" x="3291" y="530" width="109" height="37"/><text class="t"><tspan x="3345.5" y="546.4">cellular response</tspan><tspan x="3345.5" y="559.8">to alcohol</tspan></text></g>
<g id="n_CROCyc"><rect class="sh" x="3560" y="514.5" width="109" height="71"/><rect class="bx" x="3559" y="513" width="109" height="49"/><rect class="mo" x="3559" y="562" width="54" height="22"/><rect class="mo" x="3613" y="562" width="55" height="22"/><text class="t"><tspan x="3613.5" y="528.7">cellular response</tspan><tspan x="3613.5" y="542.1">to organic cyclic</tspan><tspan x="3613.5" y="555.5">compound</tspan><tspan x="3586" y="577.6">Mouse</tspan><tspan x="3640.5" y="577.6">Recql5</tspan></text></g>
<g id="n_RAlk"><rect class="sh" x="3715" y="531.5" width="80" height="37"/><rect class="bx" x="3714" y="530" width="80" height="37"/><text class="t"><tspan x="3754" y="546.4">response to</tspan><tspan x="3754" y="559.8">alkaloid</tspan></text></g>
<g id="n_CRON"><rect class="sh" x="3841" y="514.5" width="111" height="71"/><rect class="bx" x="3840" y="513" width="111" height="49"/><rect class="mo" x="3840" y="562" width="56" height="22"/><rect class="mo" x="3896" y="562" width="55" height="22"/><text class="t"><tspan x="3895.5" y="528.7">cellular response</tspan><tspan x="3895.5" y="542.1">to organonitrogen</tspan><tspan x="3895.5" y="555.5">compound</tspan><tspan x="3868" y="577.6">Mouse</tspan><tspan x="3923.5" y="577.6">Recql5</tspan></text></g>
<g id="n_RNABP"><rect class="sh" x="599" y="634.5" width="111" height="36"/><rect class="bx" x="598" y="633" width="111" height="36"/><text class="t"><tspan x="653.5" y="648.9">RNA biosynthetic</tspan><tspan x="653.5" y="662.3">process</tspan></text></g>
<g id="n_NRMBP"><rect class="sh" x="895" y="621.5" width="119" height="63"/><rect class="bx" x="894" y="620" width="119" height="63"/><text class="t"><tspan x="953.5" y="636">negative regulation</tspan><tspan x="953.5" y="649.4">of macromolecule</tspan><tspan x="953.5" y="662.8">biosynthetic</tspan><tspan x="953.5" y="676.2">process</tspan></text></g>
<g id="n_RRNAMP"><rect class="sh" x="1134" y="627.5" width="96" height="50"/><rect class="bx" x="1133" y="626" width="96" height="50"/><text class="t"><tspan x="1181" y="642.2">regulation of</tspan><tspan x="1181" y="655.6">RNA metabolic</tspan><tspan x="1181" y="669">process</tspan></text></g>
<g id="n_DR"><rect class="sh" x="1524" y="641.5" width="120" height="22"/><rect class="bx" x="1523" y="640" width="120" height="22"/><text class="t" x="1583" y="655.6">DNA recombination</text></g>
<g id="n_RDMP"><rect class="sh" x="1792" y="627.5" width="96" height="50"/><rect class="bx" x="1791" y="626" width="96" height="50"/><text class="t"><tspan x="1839" y="642.2">regulation of</tspan><tspan x="1839" y="655.6">DNA metabolic</tspan><tspan x="1839" y="669">process</tspan></text></g>
<g id="n_DRep"><rect class="sh" x="2147" y="630.5" width="111" height="44"/><rect class="bx" x="2146" y="629" width="111" height="22"/><rect class="hu" x="2146" y="651" width="50" height="22"/><rect class="hu" x="2196" y="651" width="61" height="22"/><text class="t"><tspan x="2201.5" y="644.6">DNA repair</tspan><tspan x="2171" y="666.6">Human</tspan><tspan x="2226.5" y="666.6">RECQL5</tspan></text></g>
<g id="n_DRepl"><rect class="sh" x="2432" y="630.5" width="110" height="44"/><rect class="bx" x="2431" y="629" width="110" height="22"/><rect class="hu" x="2431" y="651" width="50" height="22"/><rect class="hu" x="2481" y="651" width="60" height="22"/><text class="t"><tspan x="2486" y="644.6">DNA replication</tspan><tspan x="2456" y="666.6">Human</tspan><tspan x="2511" y="666.6">RECQL5</tspan></text></g>
<g id="n_RCam"><rect class="sh" x="3453" y="634.5" width="88" height="36"/><rect class="bx" x="3452" y="633" width="88" height="36"/><text class="t"><tspan x="3496" y="648.9">response to</tspan><tspan x="3496" y="662.3">camptothecin</tspan></text></g>
<g id="n_CRAlk"><rect class="sh" x="3700" y="634.5" width="110" height="36"/><rect class="bx" x="3699" y="633" width="110" height="36"/><text class="t"><tspan x="3754" y="648.9">cellular response</tspan><tspan x="3754" y="662.3">to alkaloid</tspan></text></g>
<g id="n_NAT"><rect class="sh" x="553" y="730.5" width="140" height="36"/><rect class="bx" x="552" y="729" width="140" height="36"/><text class="t"><tspan x="622" y="744.9">nucleic acid-templated</tspan><tspan x="622" y="758.3">transcription</tspan></text></g>
<g id="n_RRNABP"><rect class="sh" x="790" y="723.5" width="110" height="50"/><rect class="bx" x="789" y="722" width="110" height="50"/><text class="t"><tspan x="844" y="738.2">regulation of</tspan><tspan x="844" y="751.6">RNA biosynthetic</tspan><tspan x="844" y="765">process</tspan></text></g>
<g id="n_NRRNAMP"><rect class="sh" x="1218" y="723.5" width="118" height="50"/><rect class="bx" x="1217" y="722" width="118" height="50"/><text class="t"><tspan x="1276" y="738.2">negative regulation</tspan><tspan x="1276" y="751.6">of RNA metabolic</tspan><tspan x="1276" y="765">process</tspan></text></g>
<g id="n_MR"><rect class="sh" x="1392" y="737.5" width="134" height="23"/><rect class="bx" x="1391" y="736" width="134" height="23"/><text class="t" x="1458" y="752.1">mitotic recombination</text></g>
<g id="n_RDR"><rect class="sh" x="1624" y="730.5" width="121" height="36"/><rect class="bx" x="1623" y="729" width="121" height="36"/><text class="t"><tspan x="1683.5" y="744.9">regulation of</tspan><tspan x="1683.5" y="758.3">DNA recombination</tspan></text></g>
<g id="n_NRDMP"><rect class="sh" x="1790" y="723.5" width="119" height="50"/><rect class="bx" x="1789" y="722" width="119" height="50"/><text class="t"><tspan x="1848.5" y="738.2">negative regulation</tspan><tspan x="1848.5" y="751.6">of DNA metabolic</tspan><tspan x="1848.5" y="765">process</tspan></text></g>
<g id="n_RR"><rect class="sh" x="1954" y="730.5" width="101" height="36"/><rect class="bx" x="1953" y="729" width="101" height="36"/><text class="t"><tspan x="2003.5" y="744.9">recombinational</tspan><tspan x="2003.5" y="758.3">repair</tspan></text></g>
<g id="n_DSBR"><rect class="sh" x="2101" y="730.5" width="88" height="36"/><rect class="bx" x="2100" y="729" width="88" height="36"/><text class="t"><tspan x="2144" y="744.9">double-strand</tspan><tspan x="2144" y="758.3">break repair</tspan></text></g>
<g id="n_RDRep"><rect class="sh" x="2235" y="730.5" width="82" height="36"/><rect class="bx" x="2234" y="729" width="82" height="36"/><text class="t"><tspan x="2275" y="744.9">regulation of</tspan><tspan x="2275" y="758.3">DNA repair</tspan></text></g>
<g id="n_DTDR"><rect class="sh" x="2426" y="730.5" width="98" height="36"/><rect class="bx" x="2425" y="729" width="98" height="36"/><text class="t"><tspan x="2474" y="744.9">DNA-templated</tspan><tspan x="2474" y="758.3">DNA replication</tspan></text></g>
<g id="n_CRCam"><rect class="sh" x="3488" y="719.5" width="109" height="58"/><rect class="bx" x="3487" y="718" width="109" height="36"/><rect class="mo" x="3487" y="754" width="55" height="22"/><rect class="mo" x="3542" y="754" width="54" height="22"/><text class="t"><tspan x="3541.5" y="733.9">cellular response</tspan><tspan x="3541.5" y="747.3">to camptothecin</tspan><tspan x="3514.5" y="769.6">Mouse</tspan><tspan x="3569" y="769.6">Recql5</tspan></text></g>
<g id="n_DTT"><rect class="sh" x="461" y="826.5" width="98" height="36"/><rect class="bx" x="460" y="825" width="98" height="36"/><text class="t"><tspan x="509" y="840.9">DNA-templated</tspan><tspan x="509" y="854.3">transcription</tspan></text></g>
<g id="n_RNATT"><rect class="sh" x="707" y="819.5" width="140" height="50"/><rect class="bx" x="706" y="818" width="140" height="50"/><text class="t"><tspan x="776" y="834.2">regulation of</tspan><tspan x="776" y="847.6">nucleic acid-templated</tspan><tspan x="776" y="861">transcription</tspan></text></g>
<g id="n_NRRNABP"><rect class="sh" x="893" y="819.5" width="125" height="50"/><rect class="bx" x="892" y="818" width="125" height="50"/><text class="t"><tspan x="954.5" y="834.2">negative regulation</tspan><tspan x="954.5" y="847.6">of RNA biosynthetic</tspan><tspan x="954.5" y="861">process</tspan></text></g>
<g id="n_RMR"><rect class="sh" x="1491" y="826.5" width="134" height="36"/><rect class="bx" x="1490" y="825" width="134" height="36"/><text class="t"><tspan x="1557" y="840.9">regulation of</tspan><tspan x="1557" y="854.3">mitotic recombination</tspan></text></g>
<g id="n_NRDR"><rect class="sh" x="1672" y="826.5" width="135" height="36"/><rect class="bx" x="1671" y="825" width="135" height="36"/><text class="t"><tspan x="1738.5" y="840.9">negative regulation</tspan><tspan x="1738.5" y="854.3">of DNA recombination</tspan></text></g>
<g id="n_DSBRHR"><rect class="sh" x="1954" y="813.5" width="101" height="63"/><rect class="bx" x="1953" y="812" width="101" height="63"/><text class="t"><tspan x="2003.5" y="828">double-strand</tspan><tspan x="2003.5" y="841.4">break repair</tspan><tspan x="2003.5" y="854.8">via homologous</tspan><tspan x="2003.5" y="868.2">recombination</tspan></text></g>
<g id="n_RDSBR"><rect class="sh" x="2169" y="819.5" width="89" height="50"/><rect class="bx" x="2168" y="818" width="89" height="50"/><text class="t"><tspan x="2212.5" y="834.2">regulation of</tspan><tspan x="2212.5" y="847.6">double-strand</tspan><tspan x="2212.5" y="861">break repair</tspan></text></g>
<g id="n_NRDRep"><rect class="sh" x="2305" y="826.5" width="118" height="36"/><rect class="bx" x="2304" y="825" width="118" height="36"/><text class="t"><tspan x="2363" y="840.9">negative regulation</tspan><tspan x="2363" y="854.3">of DNA repair</tspan></text></g>
<g id="n_CCDR"><rect class="sh" x="2578" y="826.5" width="96" height="36"/><rect class="bx" x="2577" y="825" width="96" height="36"/><text class="t"><tspan x="2625" y="840.9">cell cycle DNA</tspan><tspan x="2625" y="854.3">replication</tspan></text></g>
<g id="n_TRP2"><rect class="sh" x="193" y="935.5" width="125" height="50"/><rect class="bx" x="192" y="934" width="125" height="50"/><text class="t"><tspan x="254.5" y="950.2">transcription</tspan><tspan x="254.5" y="963.6">by RNA polymerase</tspan><tspan x="254.5" y="977">II</tspan></text></g>
<g id="n_DTTE"><rect class="sh" x="363" y="935.5" width="100" height="50"/><rect class="bx" x="362" y="934" width="100" height="50"/><text class="t"><tspan x="412" y="950.2">DNA-templated</tspan><tspan x="412" y="963.6">transcription</tspan><tspan x="412" y="977">elongation</tspan></text></g>
<g id="n_RDTT"><rect class="sh" x="558" y="935.5" width="99" height="50"/><rect class="bx" x="557" y="934" width="99" height="50"/><text class="t"><tspan x="606.5" y="950.2">regulation of</tspan><tspan x="606.5" y="963.6">DNA-templated</tspan><tspan x="606.5" y="977">transcription</tspan></text></g>
<g id="n_NRNATT"><rect class="sh" x="702" y="935.5" width="155" height="50"/><rect class="bx" x="701" y="934" width="155" height="50"/><text class="t"><tspan x="778.5" y="950.2">negative regulation</tspan><tspan x="778.5" y="963.6">of nucleic acid-templated</tspan><tspan x="778.5" y="977">transcription</tspan></text></g>
<g id="n_NRMRec"><rect class="sh" x="1484" y="932.5" width="151" height="57"/><rect class="bx" x="1483" y="931" width="151" height="36"/><rect class="zf" x="1483" y="967" width="75" height="21"/><rect class="zf" x="1558" y="967" width="76" height="21"/><text class="t"><tspan x="1558.5" y="946.9">negative regulation</tspan><tspan x="1558.5" y="960.3">of mitotic recombination</tspan><tspan x="1520.5" y="982.1">Zfish</tspan><tspan x="1596" y="982.1">recql5</tspan></text></g>
<g id="n_RDSBRHR"><rect class="sh" x="1805" y="922.5" width="101" height="76"/><rect class="bx" x="1804" y="921" width="101" height="76"/><text class="t"><tspan x="1854.5" y="936.8">regulation of</tspan><tspan x="1854.5" y="950.2">double-strand</tspan><tspan x="1854.5" y="963.6">break repair</tspan><tspan x="1854.5" y="977">via homologous</tspan><tspan x="1854.5" y="990.4">recombination</tspan></text></g>
<g id="n_RBDSB"><rect class="sh" x="2003" y="911.5" width="125" height="98"/><rect class="bx" x="2002" y="910" width="125" height="77"/><rect class="mo" x="2002" y="987" width="63" height="21"/><rect class="mo" x="2065" y="987" width="62" height="21"/><text class="t"><tspan x="2064.5" y="926.3">replication-born</tspan><tspan x="2064.5" y="939.7">double-strand</tspan><tspan x="2064.5" y="953.1">break repair</tspan><tspan x="2064.5" y="966.5">via sister chromatid</tspan><tspan x="2064.5" y="979.9">exchange</tspan><tspan x="2033.5" y="1002.1">Mouse</tspan><tspan x="2096" y="1002.1">Recql5</tspan></text></g>
<g id="n_NRDSBR"><rect class="sh" x="2173" y="935.5" width="119" height="50"/><rect class="bx" x="2172" y="934" width="119" height="50"/><text class="t"><tspan x="2231.5" y="950.2">negative regulation</tspan><tspan x="2231.5" y="963.6">of double-strand</tspan><tspan x="2231.5" y="977">break repair</tspan></text></g>
<g id="n_NDR"><rect class="sh" x="2685" y="942.5" width="83" height="36"/><rect class="bx" x="2684" y="941" width="83" height="36"/><text class="t"><tspan x="2725.5" y="956.9">nuclear DNA</tspan><tspan x="2725.5" y="970.3">replication</tspan></text></g>
<g id="n_TERP2"><rect class="sh" x="216" y="1062.5" width="108" height="63"/><rect class="bx" x="215" y="1061" width="108" height="63"/><text class="t"><tspan x="269" y="1077">transcription</tspan><tspan x="269" y="1090.4">elongation by</tspan><tspan x="269" y="1103.8">RNA polymerase</tspan><tspan x="269" y="1117.2">II</tspan></text></g>
<g id="n_RDTTE"><rect class="sh" x="432" y="1062.5" width="99" height="63"/><rect class="bx" x="431" y="1061" width="99" height="63"/><text class="t"><tspan x="480.5" y="1077">regulation of</tspan><tspan x="480.5" y="1090.4">DNA-templated</tspan><tspan x="480.5" y="1103.8">transcription</tspan><tspan x="480.5" y="1117.2">elongation</tspan></text></g>
<g id="n_NRDTT"><rect class="sh" x="578" y="1069.5" width="119" height="49"/><rect class="bx" x="577" y="1068" width="119" height="49"/><text class="t"><tspan x="636.5" y="1083.7">negative regulation</tspan><tspan x="636.5" y="1097.1">of DNA-templated</tspan><tspan x="636.5" y="1110.5">transcription</tspan></text></g>
<g id="n_NRDSBRHR"><rect class="sh" x="1845" y="1045.5" width="119" height="98"/><rect class="bx" x="1844" y="1044" width="119" height="76"/><rect class="mo" x="1844" y="1120" width="60" height="22"/><rect class="mo" x="1904" y="1120" width="59" height="22"/><text class="t"><tspan x="1903.5" y="1059.8">negative regulation</tspan><tspan x="1903.5" y="1073.2">of double-strand</tspan><tspan x="1903.5" y="1086.6">break repair</tspan><tspan x="1903.5" y="1100">via homologous</tspan><tspan x="1903.5" y="1113.4">recombination</tspan><tspan x="1874" y="1135.6">Mouse</tspan><tspan x="1933.5" y="1135.6">Recql5</tspan></text></g>
<g id="n_MDR"><rect class="sh" x="2780" y="1075.5" width="80" height="37"/><rect class="bx" x="2779" y="1074" width="80" height="37"/><text class="t"><tspan x="2819" y="1090.4">mitotic DNA</tspan><tspan x="2819" y="1103.8">replication</tspan></text></g>
<g id="n_RTERP2"><rect class="sh" x="294" y="1178.5" width="108" height="76"/><rect class="bx" x="293" y="1177" width="108" height="76"/><text class="t"><tspan x="347" y="1192.8">regulation of</tspan><tspan x="347" y="1206.2">transcription</tspan><tspan x="347" y="1219.6">elongation by</tspan><tspan x="347" y="1233">RNA polymerase</tspan><tspan x="347" y="1246.4">II</tspan></text></g>
<g id="n_NRDTTE"><rect class="sh" x="448" y="1185.5" width="118" height="63"/><rect class="bx" x="447" y="1184" width="118" height="63"/><text class="t"><tspan x="506" y="1200">negative regulation</tspan><tspan x="506" y="1213.4">of DNA-templated</tspan><tspan x="506" y="1226.8">transcription,</tspan><tspan x="506" y="1240.2">elongation</tspan></text></g>
<g id="n_MDTDR"><rect class="sh" x="2749" y="1187.5" width="142" height="58"/><rect class="bx" x="2748" y="1186" width="142" height="36"/><rect class="hu" x="2748" y="1222" width="71" height="22"/><rect class="hu" x="2819" y="1222" width="71" height="22"/><text class="t"><tspan x="2819" y="1201.9">mitotic DNA-templated</tspan><tspan x="2819" y="1215.3">DNA replication</tspan><tspan x="2783.5" y="1237.6">Human</tspan><tspan x="2854.5" y="1237.6">RECQL5</tspan></text></g>
<g id="n_NRTERP2"><rect class="sh" x="288" y="1290.5" width="120" height="98"/><rect class="bx" x="287" y="1289" width="120" height="76"/><rect class="hu" x="287" y="1365" width="60" height="22"/><rect class="hu" x="347" y="1365" width="60" height="22"/><text class="t"><tspan x="347" y="1304.8">negative regulation</tspan><tspan x="347" y="1318.2">of transcription</tspan><tspan x="347" y="1331.6">elongation by</tspan><tspan x="347" y="1345">RNA polymerase</tspan><tspan x="347" y="1358.4">II</tspan><tspan x="317" y="1380.6">Human</tspan><tspan x="377" y="1380.6">RECQL5</tspan></text></g>
</g>
</svg>
